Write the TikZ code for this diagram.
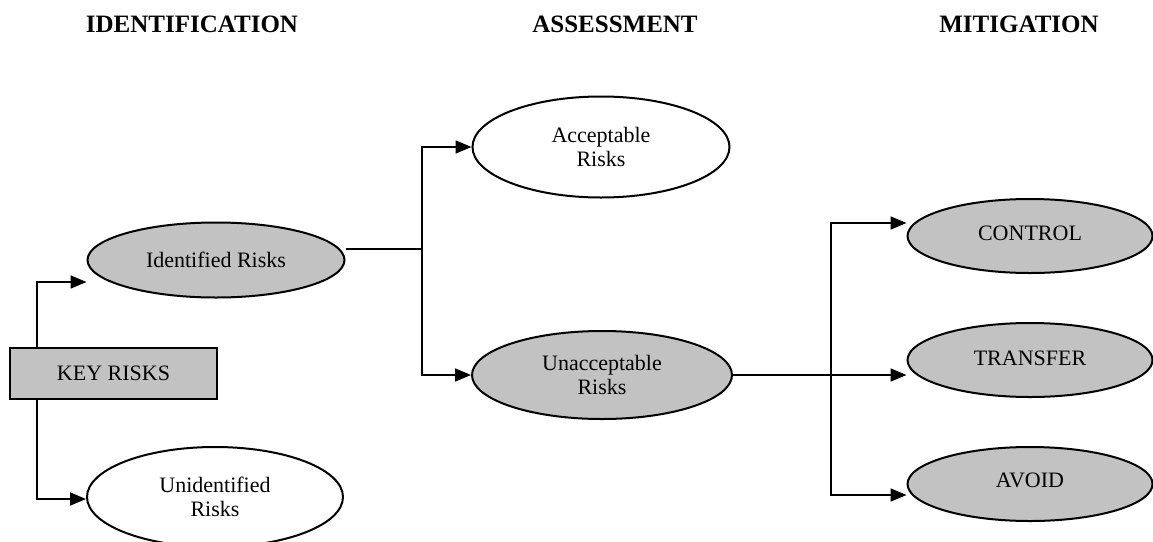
\documentclass[tikz,border=0pt]{standalone}
\usepackage{fontspec}
\setmainfont{Liberation Serif}
\usetikzlibrary{arrows.meta,shapes.geometric}

\tikzset{
  head/.style={font=\bfseries\fontsize{25}{30}\selectfont, anchor=center},
  body/.style={font=\fontsize{22}{24}\selectfont, align=center, inner sep=0pt},
  oval/.style={body, ellipse, draw, line width=2pt},
  shaded/.style={fill=black!24},
  keybox/.style={body, draw, line width=2pt, fill=black!24,
    minimum width=207pt, minimum height=51pt},
  link/.style={line width=1.7pt},
  arr/.style={link, -{Triangle[length=16pt,width=13pt]}},
}

\begin{document}
\begin{tikzpicture}[x=1pt,y=-1pt]
  \useasboundingbox (0,0) rectangle (1153,541);

  % column headings
  \node[head] (hid) at (192,24) {IDENTIFICATION};
  \node[head] (has) at (615,24) {ASSESSMENT};
  \node[head] (hmi) at (1019,24) {MITIGATION};

  % identification
  \node[keybox] (key) at (113.5,373.5) {KEY RISKS};
  \node[oval, shaded, minimum width=257pt, minimum height=75pt] (ident) at (216,260) {Identified Risks};
  \node[oval, minimum width=256pt, minimum height=100pt] (unid) at (215,497) {Unidentified\\Risks};

  % assessment
  \node[oval, minimum width=257pt, minimum height=101pt] (acc) at (601,147) {Acceptable\\Risks};
  \node[oval, shaded, minimum width=260pt, minimum height=88pt] (unacc) at (602,375) {Unacceptable\\Risks};

  % mitigation
  \node[oval, shaded, minimum width=245pt, minimum height=74pt] (ctrl) at (1030,236) {\raisebox{5pt}{CONTROL}};
  \node[oval, shaded, minimum width=245pt, minimum height=74pt] (trans) at (1030,360) {\raisebox{4pt}{TRANSFER}};
  \node[oval, shaded, minimum width=245pt, minimum height=74pt] (avoid) at (1030,484) {\raisebox{8pt}{AVOID}};

  % junction points of the branching connectors
  \coordinate (spine) at (37,0);
  \coordinate (j1) at (422,249);
  \coordinate (j2) at (831,375);

  % key risks split into identified and unidentified
  \draw[arr] (key.north -| spine) |- ([yshift=-22pt]ident.west);
  \draw[arr] (key.south -| spine) |- ([yshift=-2pt]unid.west);

  % identified risks are assessed
  \draw[link] ([yshift=11pt]ident.east) -- (j1);
  \draw[arr] (j1) |- (acc.west);
  \draw[arr] (j1) |- (unacc.west);

  % unacceptable risks are mitigated
  \draw[arr] (unacc.east) -- (unacc.east -| trans.west);
  \draw[arr] (j2) |- ([yshift=13pt]ctrl.west);
  \draw[arr] (j2) |- ([yshift=-11pt]avoid.west);
\end{tikzpicture}
\end{document}
